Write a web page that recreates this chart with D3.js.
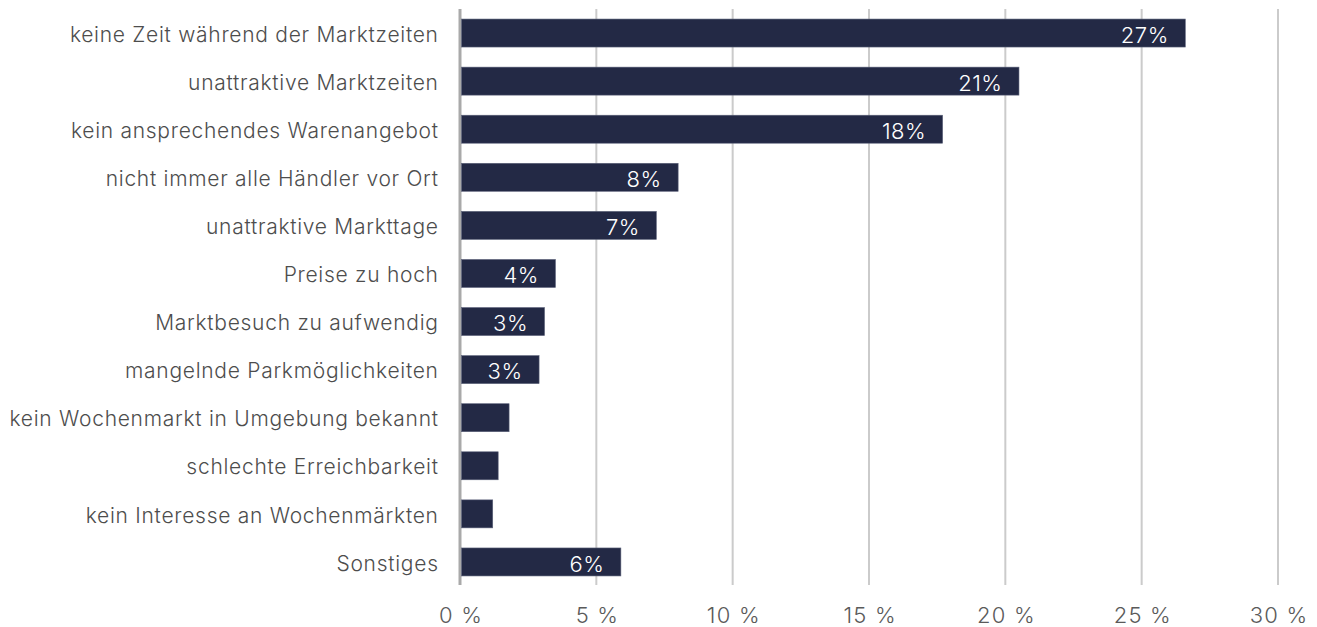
<!DOCTYPE html>
<html lang="de">
<head>
<meta charset="utf-8">
<title>Gründe gegen den Wochenmarktbesuch</title>
<script src="https://cdn.jsdelivr.net/npm/d3@7"></script>
<style>
  html, body { margin: 0; padding: 0; background: #fff; }
  svg { display: block; font-family: Inter, Lato, sans-serif; font-weight: 300; }
</style>
</head>
<body>
<svg id="chart" width="1317" height="627"></svg>
<script>
// Reasons for not visiting the weekly market, share of respondents in percent
const categories = [
  "keine Zeit während der Marktzeiten",
  "unattraktive Marktzeiten",
  "kein ansprechendes Warenangebot",
  "nicht immer alle Händler vor Ort",
  "unattraktive Markttage",
  "Preise zu hoch",
  "Marktbesuch zu aufwendig",
  "mangelnde Parkmöglichkeiten",
  "kein Wochenmarkt in Umgebung bekannt",
  "schlechte Erreichbarkeit",
  "kein Interesse an Wochenmärkten",
  "Sonstiges"
];
const values = [26.6, 20.5, 17.7, 8.0, 7.2, 3.5, 3.1, 2.9, 1.8, 1.4, 1.2, 5.9];
const xTicks = [0, 5, 10, 15, 20, 25, 30];

// Bars below this share carry no value label
const labelThreshold = 2.5;

const fontStack = "Inter, Lato, sans-serif";

const svg = d3.select("#chart");

const x = d3.scaleLinear().domain([0, 30]).range([460, 1278]);
const y = d3.scaleBand()
  .domain(categories)
  .range([9, 586])
  .paddingInner(0.418)
  .paddingOuter(0.209);

// Vertical gridlines
svg.append("g")
  .selectAll("line")
  .data(xTicks)
  .join("line")
  .attr("x1", d => x(d))
  .attr("x2", d => x(d))
  .attr("y1", 9)
  .attr("y2", 585)
  .attr("stroke", d => d === 0 ? "#a9a9a9" : "#cbcbcb")
  .attr("stroke-width", d => d === 0 ? 3 : 2);

// Bottom axis with "n %" labels
const xAxis = d3.axisBottom(x)
  .tickValues(xTicks)
  .tickSize(0)
  .tickPadding(0)
  .tickFormat(d => d + " %");

svg.append("g")
  .attr("transform", "translate(0.6,607)")
  .call(xAxis)
  .call(g => g.select(".domain").remove())
  .call(g => g.selectAll("text")
    .attr("dy", "0.71em")
    .attr("fill", "#5a5a5a")
    .style("font-size", "22px")
    .style("font-weight", 350)
    .style("letter-spacing", "1.2px")
    .style("font-family", fontStack));

// Category axis on the left
const yAxis = d3.axisLeft(y).tickSize(0).tickPadding(0);
svg.append("g")
  .attr("transform", "translate(438.7,0)")
  .call(yAxis)
  .call(g => g.select(".domain").remove())
  .call(g => g.selectAll("text")
    .attr("fill", "#4d4d4d")
    .attr("dy", "0.41em")
    .style("font-size", "21px")
    .style("font-weight", 350)
    .style("letter-spacing", "0.72px")
    .style("font-family", fontStack));

const data = categories.map((c, i) => ({ category: c, value: values[i] }));

// Bars
svg.append("g")
  .selectAll("rect")
  .data(data)
  .join("rect")
  .attr("x", x(0) + 1.5)
  .attr("y", d => y(d.category))
  .attr("width", d => x(d.value) - x(0) - 1.5)
  .attr("height", y.bandwidth())
  .attr("fill", "#232945")
  .attr("stroke", "#5b6179")
  .attr("stroke-width", 0.6);

// Value labels inside the bars
svg.append("g")
  .selectAll("text")
  .data(data.filter(d => d.value >= labelThreshold))
  .join("text")
  .attr("x", d => x(d.value) - 16.5)
  .attr("y", d => y(d.category) + y.bandwidth() / 2)
  .attr("dy", "0.44em")
  .attr("text-anchor", "end")
  .attr("fill", "#ffffff")
  .style("font-size", "22px")
  .style("font-weight", 300)
  .style("letter-spacing", "0.5px")
  .style("font-family", fontStack)
  .text(d => Math.round(d.value) + "%");
</script>
</body>
</html>
